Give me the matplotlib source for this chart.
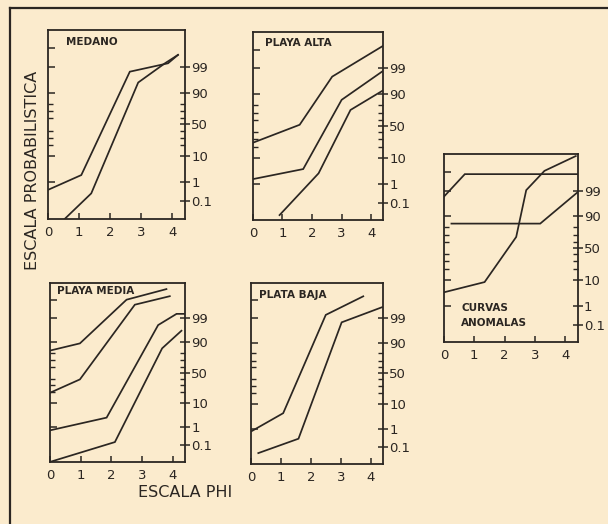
"""Grain-size cumulative curves on probability paper (phi scale), five panels."""
from statistics import NormalDist

import matplotlib
matplotlib.use("Agg")
import matplotlib.pyplot as plt
import numpy as np
from matplotlib.lines import Line2D

BG = "#fbebcd"
INK = "#2b2622"

# cumulative percent vs phi
medano_phi_a = [0.0, 1.07, 2.63, 3.86, 4.18]
medano_pct_a = [0.43, 2.1, 98.3, 99.3, 99.74]
medano_phi_b = [0.54, 1.39, 2.9, 3.76, 4.18]
medano_pct_b = [0.0075, 0.28, 95.4, 99.3, 99.74]

alta_phi_a = [0.0, 1.58, 2.68, 4.4]
alta_pct_a = [25.0, 52.0, 97.7, 99.94]
alta_phi_b = [0.0, 1.7, 3.0, 4.4]
alta_pct_b = [1.6, 4.1, 85.5, 98.7]
alta_phi_c = [0.9, 2.22, 3.3, 4.4]
alta_pct_c = [0.016, 2.8, 74.2, 92.5]

media_phi_a = [0.0, 0.98, 2.5, 3.8]
media_pct_a = [82.4, 89.2, 99.9, 99.98]
media_phi_b = [0.0, 0.98, 2.77, 3.91]
media_pct_b = [19.5, 38.6, 99.8, 99.94]
media_phi_c = [0.0, 1.85, 3.53, 4.13, 4.4]
media_pct_c = [0.71, 2.8, 97.8, 99.36, 99.36]
media_phi_d = [0.0, 2.12, 3.66, 4.29]
media_pct_d = [0.0075, 0.16, 84.8, 96.2]

baja_phi_a = [0.0, 1.07, 2.49, 3.74]
baja_pct_a = [0.73, 4.7, 99.3, 99.94]
baja_phi_b = [0.24, 1.58, 3.02, 4.37]
baja_pct_b = [0.04, 0.3, 98.4, 99.73]

anom_phi_a = [0.0, 0.69, 4.4]
anom_pct_a = [98.1, 99.86, 99.86]
anom_phi_b = [0.25, 3.17, 4.4]
anom_pct_b = [83.9, 83.9, 98.8]
anom_phi_c = [0.0, 1.34, 2.38, 2.71, 3.31, 4.34]
anom_pct_c = [3.7, 8.5, 67.4, 99.04, 99.91, 99.99]

PHI_TICKS = [0, 1, 2, 3, 4]
PHI_LABELS = ["0", "1", "2", "3", "4"]
RIGHT_TICKS = [0.1, 1, 10, 50, 90, 99]
RIGHT_LABELS = ["0.1", "1", "10", "50", "90", "99"]
LEFT_TICKS = [1, 10, 90, 99, 99.9]
MINOR_TICKS = [20, 30, 40, 60, 70, 80]

_nd = NormalDist()
_ppf = np.vectorize(_nd.inv_cdf, otypes=[float])
_cdf = np.vectorize(_nd.cdf, otypes=[float])


def probit(p):
    p = np.clip(np.asarray(p, dtype=float) / 100.0, 1e-9, 1 - 1e-9)
    return _ppf(p)


def inv_probit(z):
    return _cdf(np.asarray(z, dtype=float)) * 100.0


Y_LO, Y_HI = float(inv_probit(-3.8)), float(inv_probit(3.8))


def prob_axis(ax):
    ax.set_yscale("function", functions=(probit, inv_probit))
    ax.set_ylim(Y_LO, Y_HI)


def panel(fig, rect, title, series, title_xy, title_kw=None):
    ax = fig.add_axes(rect)
    ax.set_facecolor(BG)
    prob_axis(ax)
    ax.set_xlim(0, 4.4)
    for phi, pct in series:
        ax.plot(phi, pct, color=INK, lw=1.25, solid_joinstyle="miter")
    for s in ax.spines.values():
        s.set_color(INK)
        s.set_linewidth(1.3)
    ax.set_xticks(PHI_TICKS, PHI_LABELS)
    ax.tick_params(axis="x", direction="in", length=4, width=1.1, color=INK,
                   labelcolor=INK, labelsize=9.5, pad=5)
    ax.set_yticks(LEFT_TICKS, [""] * len(LEFT_TICKS))
    ax.set_yticks(MINOR_TICKS, minor=True)
    ax.yaxis.set_minor_formatter(plt.NullFormatter())
    ax.tick_params(axis="y", which="major", direction="in", length=5, width=1.1,
                   color=INK)
    ax.tick_params(axis="y", which="minor", direction="in", length=3.5, width=1.0,
                   color=INK)

    axr = ax.twinx()
    prob_axis(axr)
    axr.spines[:].set_visible(False)
    axr.set_yticks(RIGHT_TICKS, RIGHT_LABELS)
    axr.set_yticks(MINOR_TICKS, minor=True)
    axr.yaxis.set_minor_formatter(plt.NullFormatter())
    axr.tick_params(axis="y", which="major", direction="inout", length=7, width=1.1,
                    color=INK, labelcolor=INK, labelsize=9.5, pad=1)
    axr.tick_params(axis="y", which="minor", direction="in", length=3.5, width=1.0,
                    color=INK)

    kw = dict(fontsize=7.5, fontweight="bold", color=INK, va="center", ha="left")
    if title_kw:
        kw.update(title_kw)
    ax.text(*title_xy, title, transform=ax.transAxes, **kw)
    return ax


def main() -> None:
    fig = plt.figure(figsize=(6.08, 5.24), dpi=100, facecolor=BG)

    panel(fig, [0.079, 0.582, 0.225, 0.361], "MEDANO",
          [(medano_phi_a, medano_pct_a), (medano_phi_b, medano_pct_b)],
          (0.13, 0.935))
    panel(fig, [0.416, 0.580, 0.214, 0.359], "PLAYA ALTA",
          [(alta_phi_a, alta_pct_a), (alta_phi_b, alta_pct_b),
           (alta_phi_c, alta_pct_c)],
          (0.09, 0.94))
    panel(fig, [0.082, 0.118, 0.222, 0.342], "PLAYA MEDIA",
          [(media_phi_a, media_pct_a), (media_phi_b, media_pct_b),
           (media_phi_c, media_pct_c), (media_phi_d, media_pct_d)],
          (0.05, 0.953))
    panel(fig, [0.413, 0.115, 0.217, 0.345], "PLATA BAJA",
          [(baja_phi_a, baja_pct_a), (baja_phi_b, baja_pct_b)],
          (0.063, 0.935))
    panel(fig, [0.730, 0.347, 0.220, 0.359], "CURVAS\nANOMALAS",
          [(anom_phi_a, anom_pct_a), (anom_phi_b, anom_pct_b),
           (anom_phi_c, anom_pct_c)],
          (0.13, 0.14), dict(linespacing=1.6))

    fig.text(0.053, 0.675, "ESCALA PROBABILISTICA", rotation=90, ha="center",
             va="center", fontsize=11.5, color=INK)
    fig.text(0.305, 0.061, "ESCALA PHI", ha="center", va="center",
             fontsize=11.5, color=INK)

    # open drawing frame: left and top rules only
    fig.add_artist(Line2D([0.017, 0.017], [0.0, 0.985], color=INK, lw=1.6,
                          transform=fig.transFigure))
    fig.add_artist(Line2D([0.017, 1.0], [0.985, 0.985], color=INK, lw=1.6,
                          transform=fig.transFigure))

    fig.savefig("out.png", dpi=100, facecolor=BG)


if __name__ == "__main__":
    main()
